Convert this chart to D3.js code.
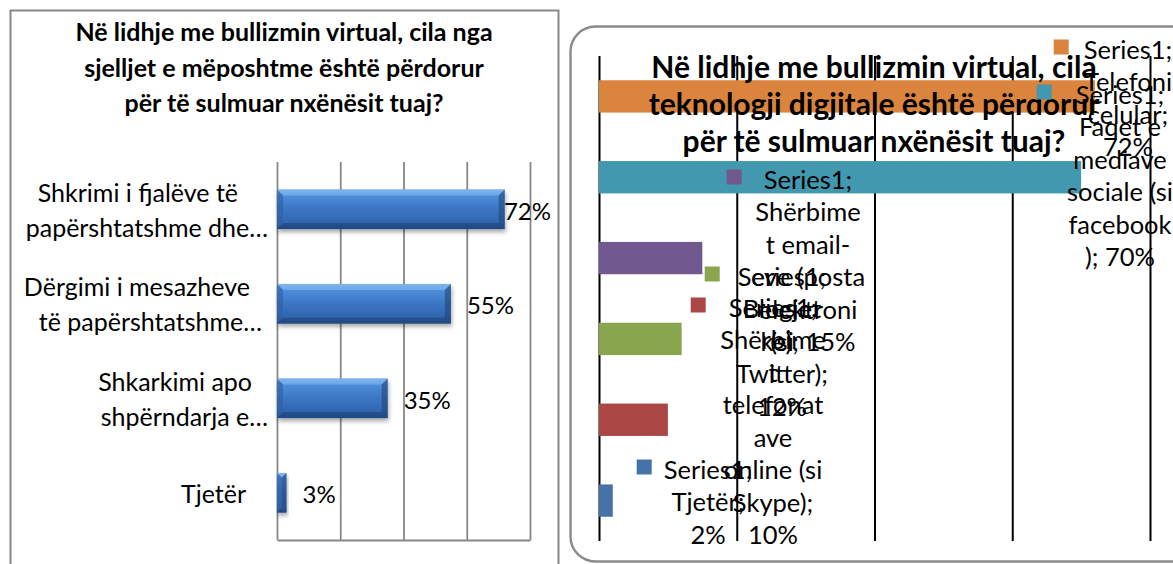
<!DOCTYPE html>
<html>
<head>
<meta charset="utf-8">
<script src="https://cdn.jsdelivr.net/npm/d3@7"></script>
<style>
  html, body { margin: 0; padding: 0; background: #ffffff; }
  svg { display: block; font-family: Lato, "Open Sans", "Noto Sans", sans-serif; }
</style>
</head>
<body>
<svg id="chart" width="1173" height="564"></svg>
<script>
// ---------- data: behaviours used for cyber-bullying ----------
const behaviourTitle = [
  "Në lidhje me bullizmin virtual, cila nga",
  "sjelljet e mëposhtme është përdorur",
  "për të sulmuar nxënësit  tuaj?"
];
const behaviourLines = [
  ["Shkrimi i fjalëve të", "papërshtatshme dhe…"],
  ["Dërgimi i mesazheve", "të papërshtatshme…"],
  ["Shkarkimi apo", "shpërndarja e…"],
  ["Tjetër"]
];
const behaviourValues = [72, 55, 35, 3];
const percentTicks = [0, 20, 40, 60, 80];

// ---------- data: digital technologies used ----------
const techTitle = [
  "Në lidhje me bullizmin virtual, cila",
  "teknologji digjitale është përdorur",
  "për të sulmuar nxënësit tuaj?"
];
const seriesName = "Series1";
const techCategoryLines = [
  ["Telefoni", "celular"],
  ["Faqet e", "mediave", "sociale (si", "facebook", ")"],
  ["Shërbime", "t email-", "eve (posta", "elektroni", "ke)"],
  ["Blogjet", "(si", "Twitter)"],
  ["Shërbime", "t", "telefonat", "ave", "online (si", "Skype)"],
  ["Tjetër"]
];
const techValues = [72, 70, 15, 12, 10, 2];

// ---------- styles & layout ----------
const techColors = ["#DB843D", "#4198AF", "#71588F", "#89A54E", "#AA4643", "#4572A7"];
const catRightEdges = [[238, 268], [250, 262], [252, 268], [246]];
const techLabelLayout = [
  { cx: 1128, y: 50,  gap: 15 },
  { cx: 1120, y: 95,  gap: 24 },
  { cx: 808,  y: 180, gap: 22 },
  { cx: 782,  y: 277, gap: 18 },
  { cx: 773,  y: 308, gap: 23 },
  { cx: 708,  y: 470, gap: 12 }
];

const svg = d3.select("#chart");
const defs = svg.append("defs");

function textWidth(str, size, weight) {
  const t = svg.append("text").attr("font-size", size).attr("font-weight", weight || 400).text(str);
  const w = t.node().getComputedTextLength();
  t.remove();
  return w;
}

// bar gradient + shadow
const grad = defs.append("linearGradient").attr("id", "barGrad")
  .attr("x1", 0).attr("y1", 0).attr("x2", 0).attr("y2", 1);
[[0, "#74abea"], [0.12, "#5190dc"], [0.45, "#3d78c6"], [0.85, "#3065ae"], [1, "#244e8c"]]
  .forEach(([o, c]) => grad.append("stop").attr("offset", o).attr("stop-color", c));
const shadow = defs.append("filter").attr("id", "barShadow")
  .attr("x", "-10%").attr("y", "-30%").attr("width", "130%").attr("height", "170%");
shadow.append("feDropShadow").attr("dx", 1).attr("dy", 3).attr("stdDeviation", 2)
  .attr("flood-color", "#000").attr("flood-opacity", 0.35);

// =================== LEFT PANEL ===================
const left = svg.append("g");
left.append("rect").attr("x", 10.5).attr("y", 10.5).attr("width", 548).attr("height", 600)
  .attr("fill", "#fff").attr("stroke", "#878787").attr("stroke-width", 2);

const lx = d3.scaleLinear().domain([0, 80]).range([277, 530]);
const ly = d3.scaleBand().domain(d3.range(behaviourValues.length))
  .range([162, 540]).paddingInner(0.58).paddingOuter(0.29);

const lGrid = left.append("g").attr("transform", "translate(0,540)")
  .call(d3.axisBottom(lx).tickValues(percentTicks).tickSize(-(540 - 162)).tickSizeOuter(0).tickFormat(""));
lGrid.selectAll("line").attr("stroke", "#878787").attr("stroke-width", 1.8);
lGrid.select(".domain").attr("stroke", "#878787").attr("stroke-width", 1.8);

// title
left.append("text").attr("text-anchor", "middle").attr("font-weight", 700)
  .attr("font-size", 25).attr("fill", "#000")
  .selectAll("tspan").data(behaviourTitle).join("tspan")
  .attr("x", 284).attr("y", (d, i) => 41 + i * 35.5).text(d => d);

// bars with bevelled look
const bars = left.selectAll("g.bar").data(behaviourValues).join("g").attr("class", "bar");
bars.each(function (v, i) {
  const g = d3.select(this);
  const x0 = lx(0), x1 = lx(v), y0 = ly(i), y1 = ly(i) + ly.bandwidth();
  const b = Math.min(6, (x1 - x0) / 2);
  g.append("rect").attr("x", x0).attr("y", y0).attr("width", x1 - x0).attr("height", y1 - y0)
    .attr("fill", "url(#barGrad)").attr("filter", "url(#barShadow)");
  g.append("polygon").attr("points", [[x0, y0], [x1, y0], [x1 - b, y0 + b], [x0 + b, y0 + b]].join(" "))
    .attr("fill", "#8dbdf2").attr("opacity", 0.55);
  g.append("polygon").attr("points", [[x0, y1], [x1, y1], [x1 - b, y1 - b], [x0 + b, y1 - b]].join(" "))
    .attr("fill", "#1d4377").attr("opacity", 0.55);
  g.append("polygon").attr("points", [[x0, y0], [x0 + b, y0 + b], [x0 + b, y1 - b], [x0, y1]].join(" "))
    .attr("fill", "#2f5f9e").attr("opacity", 0.6);
  g.append("polygon").attr("points", [[x1, y0], [x1 - b, y0 + b], [x1 - b, y1 - b], [x1, y1]].join(" "))
    .attr("fill", "#1f4679").attr("opacity", 0.6);
});

// value labels
left.selectAll("text.val").data(behaviourValues).join("text").attr("class", "val")
  .attr("font-size", 24).attr("fill", "#000").attr("dy", "0.35em")
  .attr("y", (d, i) => ly(i) + ly.bandwidth() / 2 + 2)
  .text(d => d + "%")
  .attr("x", function (d) {
    const w = this.getComputedTextLength();
    return Math.min(lx(d) + 16, 551 - w);
  });

// category labels
behaviourLines.forEach((lines, i) => {
  const cy = ly(i) + ly.bandwidth() / 2 + 1;
  lines.forEach((s, j) => {
    left.append("text").attr("text-anchor", "end").attr("font-size", 25).attr("fill", "#000")
      .attr("x", catRightEdges[i][j]).attr("dy", "0.35em")
      .attr("y", cy + (j - (lines.length - 1) / 2) * 35)
      .text(s);
  });
});

// =================== RIGHT PANEL ===================
const right = svg.append("g");
right.append("rect").attr("x", 570.5).attr("y", 26.5).attr("width", 660).attr("height", 535)
  .attr("rx", 25).attr("ry", 25)
  .attr("fill", "#fff").attr("stroke", "#8a8a8a").attr("stroke-width", 2.4);

const rx = d3.scaleLinear().domain([0, 80]).range([599, 1150]);
const ry = d3.scaleBand().domain(d3.range(techValues.length))
  .range([56, 541]).paddingInner(0.6).paddingOuter(0.3);

const rGrid = right.append("g").attr("transform", "translate(0,56)")
  .call(d3.axisTop(rx).tickValues(percentTicks).tickSize(-(541 - 56)).tickFormat(""));
rGrid.select(".domain").remove();
rGrid.selectAll("line").attr("stroke", "#000").attr("stroke-width", 2);

right.selectAll("rect.bar").data(techValues).join("rect").attr("class", "bar")
  .attr("x", rx(0)).attr("y", (d, i) => ry(i))
  .attr("width", d => rx(d) - rx(0)).attr("height", ry.bandwidth())
  .attr("fill", (d, i) => techColors[i]);

// title over the plot
right.append("text").attr("text-anchor", "middle").attr("font-weight", 700)
  .attr("font-size", 30).attr("fill", "#000")
  .selectAll("tspan").data(techTitle).join("tspan")
  .attr("x", 874).attr("y", (d, i) => 78 + i * 37).text(d => d);

// data labels with legend keys
const LABEL_SIZE = 25.5, LINE_H = 32.5;
techValues.forEach((v, i) => {
  const cat = techCategoryLines[i];
  const lines = [seriesName + ";"].concat(cat.slice(0, -1));
  const last = cat[cat.length - 1] + ";";
  const merged = last + " " + v + "%";
  if (textWidth(merged, LABEL_SIZE) <= 100) lines.push(merged);
  else lines.push(last, v + "%");

  const lay = techLabelLayout[i];
  const g = right.append("g");
  lines.forEach((s, j) => {
    g.append("text").attr("text-anchor", "middle").attr("font-size", LABEL_SIZE).attr("fill", "#000")
      .attr("x", lay.cx).attr("y", lay.y + j * LINE_H).attr("dy", "0.35em").text(s);
  });
  const firstW = textWidth(lines[0], LABEL_SIZE);
  g.append("rect")
    .attr("x", lay.cx - firstW / 2 - lay.gap - 15).attr("y", lay.y - 3 - 7.5)
    .attr("width", 15).attr("height", 15).attr("fill", techColors[i]);
});
</script>
</body>
</html>
